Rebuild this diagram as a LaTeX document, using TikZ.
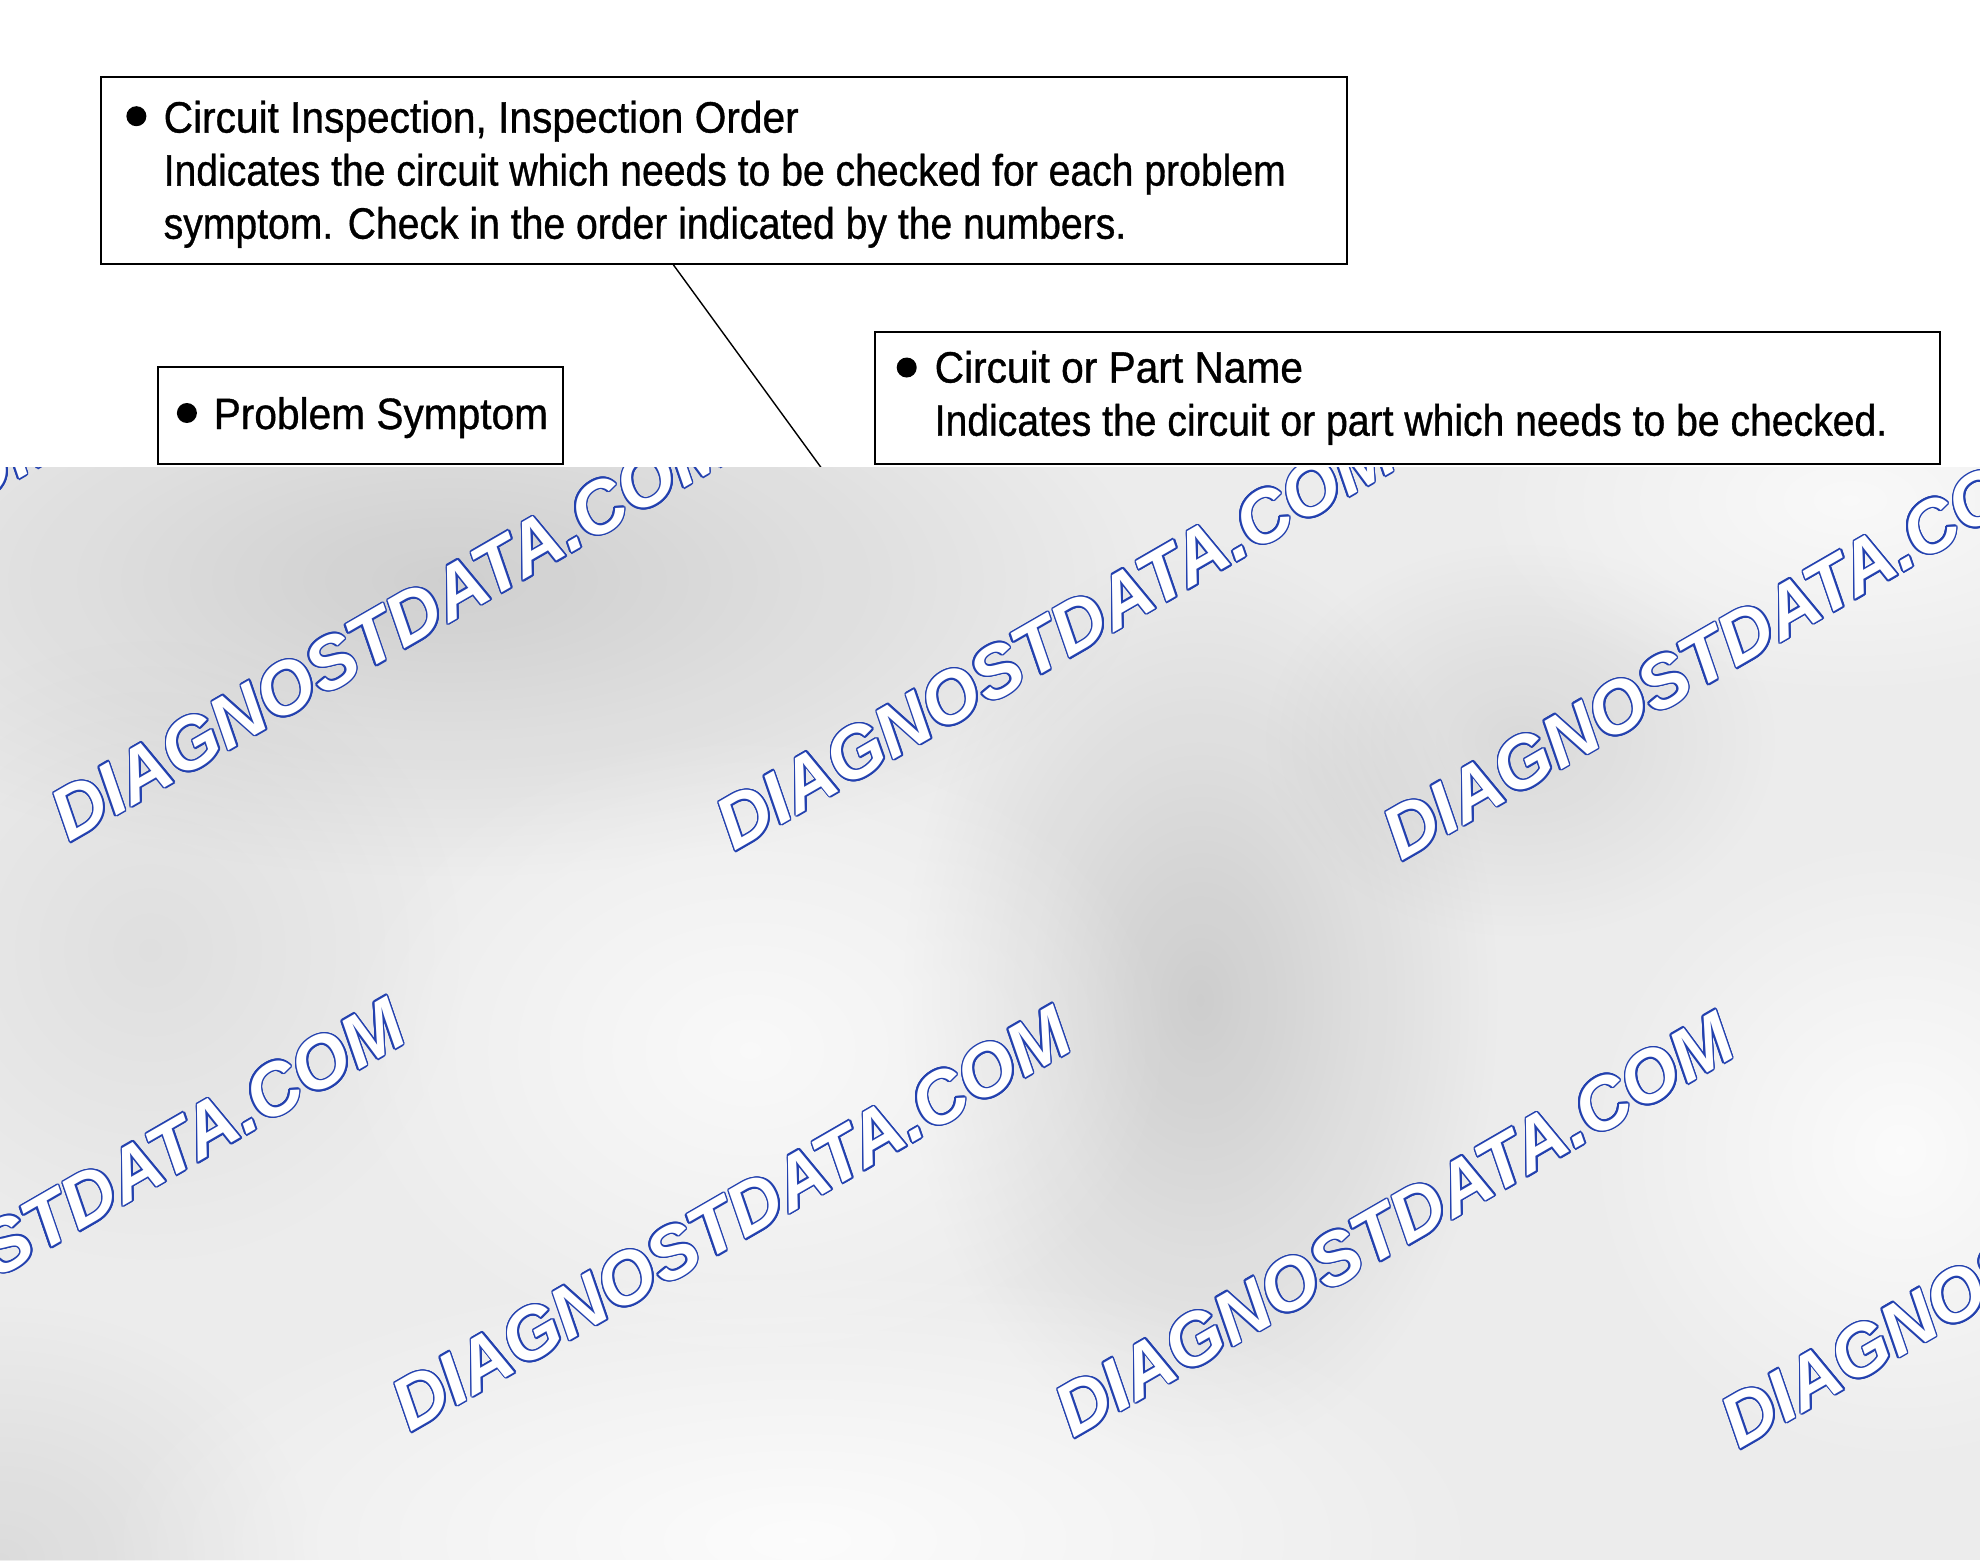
\documentclass[tikz,border=0pt]{standalone}
\usepackage{fontspec}
\setmainfont{Liberation Sans}
\newfontfamily\headf{Liberation Sans}[FakeStretch=0.925,FakeBold=0.8]
\newfontfamily\bodyf{Liberation Sans}[FakeStretch=0.89,FakeBold=0.8]
\newfontfamily\wmf{Liberation Sans}
\usepackage{contour}
\contourlength{0.45pt}
\usetikzlibrary{fadings}
\definecolor{wmblue}{RGB}{35,65,175}
\definecolor{bgbase}{RGB}{236,236,236}
\tikzfading[name=blobfade, inner color=transparent!0, outer color=transparent!100]
\begin{document}
\begin{tikzpicture}[x=0.01cm,y=-0.01cm,
  box/.style={draw=black, line width=0.55pt, inner sep=0, anchor=north west},
  head/.style={anchor=base west, inner sep=0, font=\headf\fontsize{12.5}{15}\selectfont},
  body/.style={anchor=base west, inner sep=0, font=\bodyf\fontsize{12.5}{15}\selectfont},
  bul/.style={circle, fill=black, inner sep=0, minimum size=0.2cm},
  conn/.style={draw=black, line width=0.4pt},
  wm/.style={anchor=base west, inner sep=0, rotate=30, text=white, font=\wmf\bfseries\itshape\fontsize{20.8}{21}\selectfont},
  blob/.style={path fading=blobfade}]
\useasboundingbox (0,0) rectangle (1980,1560);
\fill[white] (0,0) rectangle (1980,1560);
% boxes
\node[box, minimum width=12.452cm, minimum height=1.869cm] (b1) at (99.8,75.8) {};
\node[box, minimum width=4.054cm, minimum height=0.972cm] (b2) at (156.6,366.2) {};
\node[box, minimum width=10.645cm, minimum height=1.325cm] (b3) at (873.9,330.9) {};
% texts
\node[bul] (d1) at (136.4,116.2) {};
\node[head] (t11) at (163,132.6) {Circuit Inspection, Inspection Order};
\node[body] (t12) at (163,185.6) {Indicates the circuit which needs to be checked for each problem};
\node[body] (t13) at (163,238.7) {symptom. Check in the order indicated by the numbers.};
\node[bul] (d2) at (186.9,413) {};
\node[head] (t2) at (213,429) {Problem Symptom};
\node[bul] (d3) at (906.7,367.5) {};
\node[head] (t31) at (934,382.6) {Circuit or Part Name};
\node[body] (t32) at (934,435.7) {Indicates the circuit or part which needs to be checked.};
% connector
\coordinate (lend) at (860,521);
\draw[conn] ([xshift=5.732cm]b1.south west) -- (lend);
% watermarked background
\begin{scope}
\clip (0,467) rectangle (1980,1560);
\fill[bgbase] (0,467) rectangle (1980,1560);
\fill[black, opacity=0.12, blob] (450,580) ellipse (700 and 300);
\fill[black, opacity=0.13, blob] (1200,1000) ellipse (300 and 460);
\fill[black, opacity=0.08, blob] (1520,740) ellipse (260 and 200);
\fill[black, opacity=0.05, blob] (150,950) ellipse (320 and 320);
\fill[black, opacity=0.07, blob] (0,1560) ellipse (320 and 260);
\fill[white, opacity=0.7, blob] (750,1050) ellipse (420 and 320);
\fill[white, opacity=0.8, blob] (1900,1150) ellipse (320 and 320);
\fill[white, opacity=0.85, blob] (800,1540) ellipse (700 and 280);
\fill[white, opacity=0.7, blob] (1850,500) ellipse (380 and 200);
\node[wm] (w1) at (-596,834) {\contour{wmblue}{DIAGNOSTDATA.COM}};
\node[wm] (w2) at (69,843) {\contour{wmblue}{DIAGNOSTDATA.COM}};
\node[wm] (w3) at (734,852) {\contour{wmblue}{DIAGNOSTDATA.COM}};
\node[wm] (w4) at (1401,862) {\contour{wmblue}{DIAGNOSTDATA.COM}};
\node[wm] (w5) at (-256,1425) {\contour{wmblue}{DIAGNOSTDATA.COM}};
\node[wm] (w6) at (410,1433) {\contour{wmblue}{DIAGNOSTDATA.COM}};
\node[wm] (w7) at (1073,1439) {\contour{wmblue}{DIAGNOSTDATA.COM}};
\node[wm] (w8) at (1739,1450) {\contour{wmblue}{DIAGNOSTDATA.COM}};
\end{scope}
\end{tikzpicture}
\end{document}
